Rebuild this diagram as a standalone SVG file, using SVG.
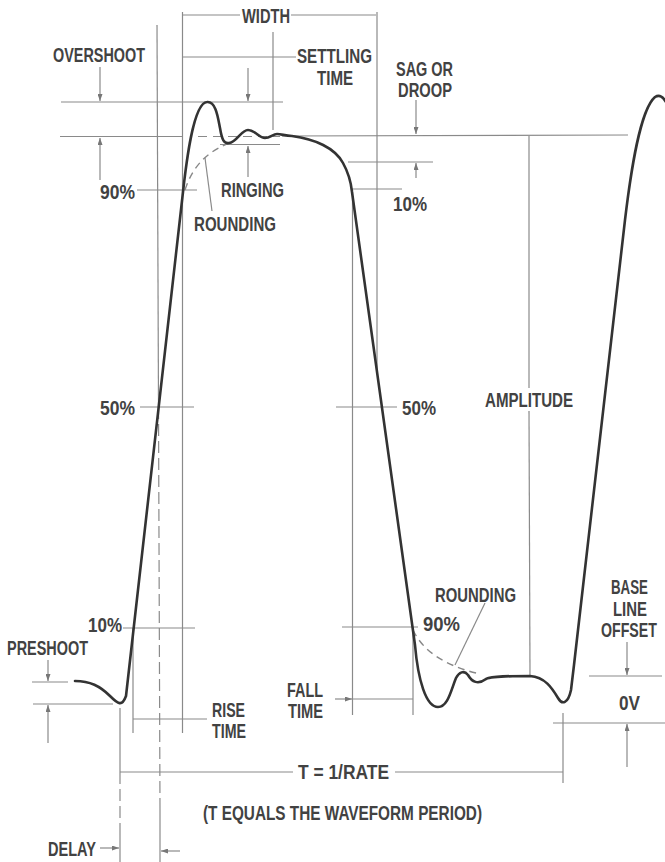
<svg xmlns="http://www.w3.org/2000/svg" width="665" height="862" viewBox="0 0 665 862">
<defs>
<marker id="ah" viewBox="0 0 7 5" refX="7" refY="2.5" markerWidth="7" markerHeight="5" markerUnits="userSpaceOnUse" orient="auto">
<path d="M0,0 L7,2.5 L0,5 z" fill="#777"/>
</marker>
</defs>
<style>
.t{font-family:"Liberation Sans",Arial,sans-serif;font-weight:bold;font-size:20.5px;fill:#424242}
.s{font-family:"Liberation Sans",Arial,sans-serif;font-weight:bold;font-size:19.5px;fill:#424242}
.l{stroke:#8a8a8a;stroke-width:1.2;fill:none}
.d{stroke:#8a8a8a;stroke-width:1.2;fill:none;stroke-dasharray:12 5}
.a{stroke:#8a8a8a;stroke-width:1.2;fill:none;marker-end:url(#ah)}
.w{stroke:#333;stroke-width:2.6;fill:none;stroke-linejoin:round;stroke-linecap:round}
.r{stroke:#888;stroke-width:1.4;fill:none;stroke-dasharray:7 5}
</style>
<rect width="665" height="862" fill="#fff"/>
<g id="connectors">
<line class="l" x1="182" y1="15" x2="240" y2="15"/>
<line class="l" x1="291" y1="15" x2="376" y2="15"/>
<line class="l" x1="182.5" y1="12" x2="182.5" y2="733"/>
<line class="l" x1="377" y1="12" x2="377" y2="372"/>
<line class="l" x1="157" y1="25" x2="158.5" y2="407"/>
<line class="d" x1="158.5" y1="407" x2="160" y2="810"/>
<line class="l" x1="160" y1="810" x2="160" y2="862"/>
<line class="l" x1="61" y1="102" x2="283" y2="102"/>
<line class="l" x1="60" y1="136.5" x2="183" y2="136.5"/>
<line class="d" x1="198" y1="136.5" x2="280" y2="136.5" style="stroke-dasharray:9 6"/>
<line class="l" x1="282" y1="136" x2="628" y2="135"/>
<line class="a" x1="100" y1="67" x2="100" y2="101"/>
<line class="a" x1="100" y1="180" x2="100" y2="138"/>
<line class="l" x1="182" y1="57" x2="296" y2="57"/>
<line class="l" x1="273" y1="32" x2="273" y2="130"/>
<line class="l" x1="220" y1="144.5" x2="280" y2="144.5"/>
<line class="a" x1="248" y1="68" x2="248" y2="101"/>
<line class="a" x1="248" y1="177" x2="248" y2="146"/>
<line class="l" x1="137" y1="190" x2="197" y2="190"/>
<line class="l" x1="212" y1="211" x2="205" y2="158"/>
<line class="a" x1="416" y1="100" x2="416" y2="134"/>
<line class="l" x1="348" y1="162" x2="433" y2="162"/>
<line class="a" x1="416" y1="178" x2="416" y2="163"/>
<line class="l" x1="352" y1="189" x2="402" y2="189"/>
<line class="l" x1="352.5" y1="190" x2="352.5" y2="715"/>
<line class="l" x1="140" y1="407" x2="194" y2="407"/>
<line class="l" x1="336" y1="407" x2="397" y2="407"/>
<line class="l" x1="529" y1="136" x2="529" y2="388"/>
<line class="l" x1="529" y1="411" x2="530" y2="675"/>
<line class="l" x1="123" y1="628" x2="195" y2="628"/>
<line class="l" x1="133" y1="628" x2="133" y2="733"/>
<line class="l" x1="133" y1="719" x2="207" y2="719"/>
<line class="l" x1="32" y1="682" x2="68" y2="682"/>
<line class="l" x1="33" y1="704" x2="113" y2="704"/>
<line class="a" x1="48" y1="660" x2="48" y2="681"/>
<line class="a" x1="48" y1="743" x2="48" y2="705"/>
<line class="l" x1="120" y1="708" x2="120" y2="772"/>
<line class="d" x1="120" y1="772" x2="120" y2="835"/>
<line class="l" x1="120" y1="835" x2="120" y2="862"/>
<line class="l" x1="120" y1="772" x2="293" y2="772"/>
<line class="l" x1="395" y1="772" x2="563" y2="772"/>
<line class="l" x1="563" y1="713" x2="563" y2="783"/>
<line class="a" x1="100" y1="848" x2="119" y2="848"/>
<line class="a" x1="180" y1="851" x2="161" y2="851"/>
<line class="l" x1="342" y1="627" x2="418" y2="627"/>
<line class="l" x1="413" y1="627" x2="413" y2="715"/>
<line class="l" x1="353" y1="699" x2="413" y2="699"/>
<line class="a" x1="335" y1="699" x2="352" y2="699"/>
<line class="l" x1="485" y1="603" x2="455" y2="665"/>
<line class="l" x1="589" y1="676" x2="662" y2="676"/>
<line class="a" x1="627" y1="642" x2="627" y2="675"/>
<line class="l" x1="553" y1="723" x2="665" y2="723"/>
<line class="a" x1="627" y1="767" x2="627" y2="724"/>
</g>
<g id="rounding-curves">
<path class="r" d="M185,190 Q196,155 230,143"/>
<path class="r" d="M413,630 Q428,662 480,674"/>
</g>
<g id="waveform">
<path class="w" d="M75,681 C90,681 100,686 110,696 C118,704 122,707 126,696 L183,192 C186,165 193,103 207,102 C216,101 218,118 220,128 C222,140 224,144 229,143 C237,142 241,130 248,130 C255,130 259,138 265,138 C270,138 273,134 277,134 C282,134 285,136 292,136 C315,139 335,148 343,163 C348,172 351,182 352,192 L415,645 C418,680 426,707 438,707 C448,707 451,690 456,678 C459,672 464,670 468,675 C472,682 478,685 486,679 C492,676 510,676 530,676 C545,677 552,688 558,698 C562,705 568,704 571,690 L574,665 L625,220 C631,170 640,110 655,97 C660,94 663,97 666,102"/>
</g>
<g id="labels">
<text class="t" x="242" y="23" textLength="48" lengthAdjust="spacingAndGlyphs">WIDTH</text>
<text class="t" x="53" y="61.5" textLength="92" lengthAdjust="spacingAndGlyphs">OVERSHOOT</text>
<text class="t" x="297" y="63" textLength="75" lengthAdjust="spacingAndGlyphs">SETTLING</text>
<text class="t" x="317" y="85" textLength="36" lengthAdjust="spacingAndGlyphs">TIME</text>
<text class="t" x="396" y="76" textLength="57" lengthAdjust="spacingAndGlyphs">SAG OR</text>
<text class="t" x="398" y="97" textLength="54" lengthAdjust="spacingAndGlyphs">DROOP</text>
<text class="t" x="100" y="199" textLength="35" lengthAdjust="spacingAndGlyphs">90%</text>
<text class="t" x="221" y="197" textLength="63" lengthAdjust="spacingAndGlyphs">RINGING</text>
<text class="t" x="194" y="231" textLength="82" lengthAdjust="spacingAndGlyphs">ROUNDING</text>
<text class="t" x="393" y="211" textLength="34" lengthAdjust="spacingAndGlyphs">10%</text>
<text class="t" x="100" y="415" textLength="35" lengthAdjust="spacingAndGlyphs">50%</text>
<text class="t" x="402" y="415" textLength="34" lengthAdjust="spacingAndGlyphs">50%</text>
<text class="t" x="485" y="407" textLength="88" lengthAdjust="spacingAndGlyphs">AMPLITUDE</text>
<text class="t" x="88" y="632" textLength="34" lengthAdjust="spacingAndGlyphs">10%</text>
<text class="t" x="7" y="655" textLength="81" lengthAdjust="spacingAndGlyphs">PRESHOOT</text>
<text class="t" x="435" y="602" textLength="81" lengthAdjust="spacingAndGlyphs">ROUNDING</text>
<text class="t" x="423" y="631" textLength="37" lengthAdjust="spacingAndGlyphs">90%</text>
<text class="t" transform="translate(611,594) scale(0.65,1)">BASE</text>
<text class="t" transform="translate(613,616) scale(0.728,1)">LINE</text>
<text class="t" transform="translate(601,637) scale(0.692,1)">OFFSET</text>
<text class="t" x="619" y="710" textLength="21" lengthAdjust="spacingAndGlyphs">0V</text>
<text class="s" x="287" y="696.5" textLength="36" lengthAdjust="spacingAndGlyphs">FALL</text>
<text class="s" x="288" y="717.5" textLength="35" lengthAdjust="spacingAndGlyphs">TIME</text>
<text class="s" x="212" y="716.5" textLength="33" lengthAdjust="spacingAndGlyphs">RISE</text>
<text class="s" x="212" y="737.5" textLength="34" lengthAdjust="spacingAndGlyphs">TIME</text>
<text class="t" x="298" y="779" textLength="91" lengthAdjust="spacingAndGlyphs">T = 1/RATE</text>
<text class="t" x="203" y="820" textLength="279" lengthAdjust="spacingAndGlyphs">(T EQUALS THE WAVEFORM PERIOD)</text>
<text class="t" x="48" y="856" textLength="48" lengthAdjust="spacingAndGlyphs">DELAY</text>
</g>
</svg>
